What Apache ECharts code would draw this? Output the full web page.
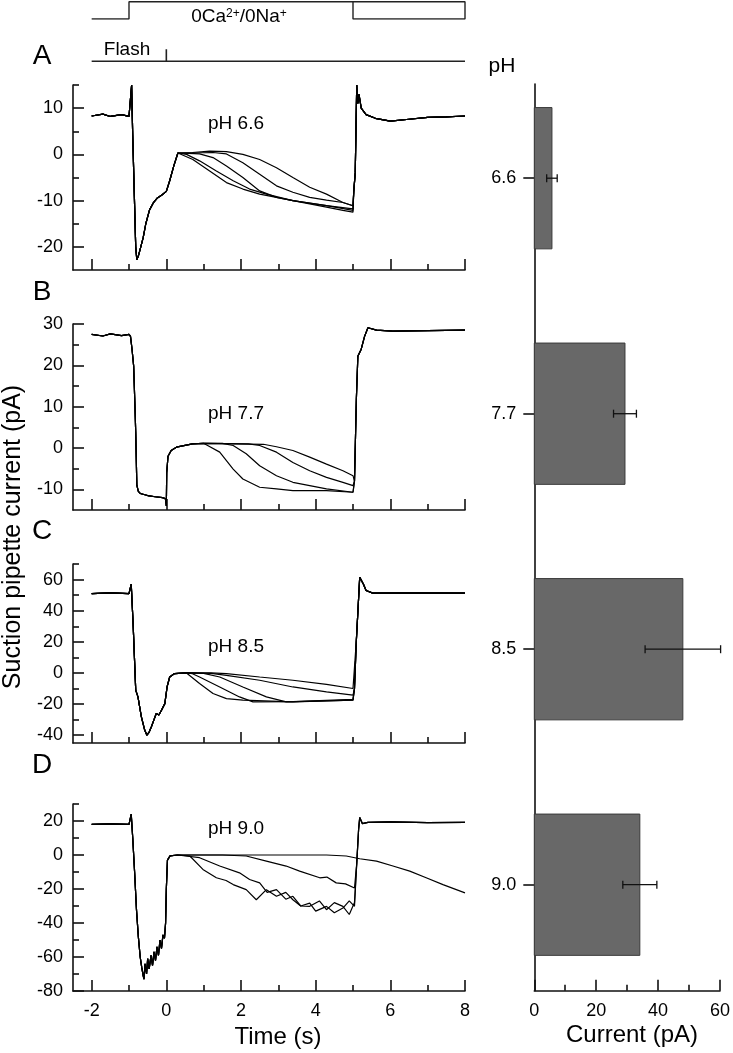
<!DOCTYPE html>
<html><head><meta charset="utf-8">
<script src="https://cdn.jsdelivr.net/npm/echarts@6/dist/echarts.min.js"></script>
<style>html,body{margin:0;padding:0;background:#fff}#c{width:733px;height:1053px}</style>
</head><body><div id="c"></div>
<script>
// ---------------- DATA ----------------
const timeMajor = [-2, 0, 2, 4, 6, 8];
const timeMinor = [-1, 1, 3, 5, 7];

// stimulus protocol (time s, level 0/1)
const solutionStep = [[-2,0],[-1,0],[-1,1],[8,1],[8,0],[5,0],[5,1]];
const flashBase = [[-2,0],[8,0]];
const flashMark = [[0,0],[0,1]];

// Panel A, pH 6.6
const aYMajor = [-20, -10, 0, 10], aYMinor = [-15, -5, 5, 15];
const aPre = [[-2,8.3],[-1.7,8.7],[-1.5,8.2],[-1.2,8.6],[-1.0,8.2],[-0.96,8.6],[-0.93,15],[-0.9,4],[-0.86,-8],[-0.82,-20],[-0.79,-22.8],[-0.75,-22],[-0.7,-20.5],[-0.62,-18],[-0.55,-15],[-0.45,-12],[-0.35,-10.5],[-0.25,-9.5],[-0.12,-8.8],[0,-8],[0.09,-5.7],[0.2,-2.5],[0.31,0.3]];
const aMid1 = [[0.36,0],[0.71,-1.1],[1.16,-3.6],[1.61,-6.1],[2.05,-7.5],[2.5,-8.6],[2.95,-9.3],[3.39,-10],[3.84,-10.7],[4.29,-11.4],[4.73,-12.1],[5.0,-12.5]];
const aMid2 = [[0.54,0],[0.89,-1.4],[1.34,-3.6],[1.79,-5.7],[2.23,-7.5],[2.68,-8.6],[3.39,-10],[4.29,-11.1],[5.0,-12.1]];
const aMid3 = [[0.6,0.2],[0.89,0.1],[1.25,-0.7],[1.61,-2.5],[2.05,-5],[2.5,-7.9],[2.95,-9.3],[3.39,-10],[4.29,-11.1],[5.0,-11.8]];
const aMid4 = [[0.7,0.3],[1.25,0.4],[1.61,0.1],[2.05,-1.8],[2.5,-4.3],[2.95,-6.8],[3.39,-8.2],[3.84,-9.3],[4.29,-9.9],[4.73,-10.4],[5.0,-11.1]];
const aMid5 = [[0.7,0.4],[1.16,0.7],[1.61,0.6],[2.05,0],[2.5,-1.1],[2.95,-2.9],[3.39,-5],[3.84,-7.1],[4.29,-8.6],[4.73,-10.4],[5.0,-11.1]];
const aPost = [[5.02,-8],[5.06,-4],[5.1,15],[5.13,11],[5.16,13],[5.22,10],[5.35,8.6],[5.6,7.8],[6.0,7.2],[6.5,7.6],[7.0,8.0],[7.5,8.1],[8.0,8.3]];

// Panel B, pH 7.7
const bYMajor = [-10, 0, 10, 20, 30], bYMinor = [-5, 5, 15, 25];
const bPre = [[-2,27.5],[-1.7,27.1],[-1.5,27.6],[-1.2,27.2],[-1.0,27.5],[-0.96,27],[-0.92,24],[-0.875,19.8],[-0.84,10],[-0.82,3.8],[-0.79,-9],[-0.75,-10.5],[-0.7,-11],[-0.5,-11.5],[-0.3,-11.8],[-0.1,-12],[-0.02,-12.3],[0,-14],[0.01,-6],[0.045,-2],[0.13,-0.6],[0.27,0.2],[0.7,1.0],[1.0,1.1]];
const bMid1 = [[1.07,0.8],[1.43,-1.0],[1.79,-5.1],[2.05,-7.5],[2.5,-9.5],[2.95,-9.9],[3.39,-10.3],[4.29,-10.3],[5.0,-10.7]];
const bMid2 = [[1.5,1.1],[1.79,0.6],[2.14,-1.4],[2.5,-4.3],[2.95,-6.7],[3.39,-8.3],[3.84,-9.1],[4.29,-9.9],[5.0,-10.7]];
const bMid3 = [[2.2,1.0],[2.5,0.6],[2.95,-1.0],[3.39,-3.5],[3.84,-5.5],[4.29,-7.1],[4.73,-8.3],[5.0,-9.1]];
const bMid4 = [[2.6,0.9],[2.95,0.3],[3.39,-0.6],[3.84,-2.2],[4.29,-3.9],[4.73,-5.5],[5.0,-6.7]];
const bPost = [[5.04,-8],[5.09,11.8],[5.13,22.2],[5.22,23.9],[5.31,27],[5.4,29.1],[5.63,28.5],[6.07,28.3],[7.0,28.4],[8.0,28.5]];

// Panel C, pH 8.5
const cYMajor = [-40, -20, 0, 20, 40, 60], cYMinor = [-30, -10, 10, 30, 50, 70];
const cPre = [[-2,51],[-1.5,51.5],[-1.0,51],[-0.96,52],[-0.94,57],[-0.89,31.6],[-0.82,-11],[-0.76,-15.4],[-0.67,-28],[-0.58,-36.7],[-0.52,-40],[-0.46,-38],[-0.4,-34.6],[-0.33,-30],[-0.27,-26],[-0.2,-27],[-0.13,-24],[-0.04,-19.7],[0.02,-9],[0.09,-2.6],[0.22,-0.4],[0.54,0]];
const cMid1 = [[0.89,-6.8],[1.25,-13.2],[1.61,-16.5],[2.05,-17.5],[3.39,-18.6],[5.0,-17.5]];
const cMid2 = [[0.7,-0.5],[0.89,-2.6],[1.43,-9],[1.96,-15.4],[2.32,-18.6],[3.39,-18.4],[5.0,-17.0]];
const cMid3 = [[1.0,-0.3],[1.43,-2.6],[2.05,-9],[2.68,-15.4],[3.21,-18.6],[5.0,-17.5]];
const cMid4 = [[1.2,-0.3],[1.61,-1.5],[2.5,-4.7],[3.39,-9],[4.29,-12.2],[5.0,-14.3]];
const cMid5 = [[1.2,0],[1.61,-0.4],[2.5,-2.6],[3.39,-4.7],[4.29,-7.3],[5.0,-10]];
const cPost = [[5.04,-10],[5.09,21],[5.18,61.5],[5.22,62.6],[5.28,57],[5.35,53],[5.53,51.3],[6.5,51.5],[8.0,51.3]];

// Panel D, pH 9.0
const dYMajor = [-80, -60, -40, -20, 0, 20], dYMinor = [-70, -50, -30, -10, 10, 30];
const dPre = [[-2,18],[-1.5,18.3],[-1,18],[-0.96,18.5],[-0.94,24],[-0.9,10],[-0.85,-10],[-0.8,-32],[-0.75,-48],[-0.7,-60],[-0.66,-66],[-0.62,-71],[-0.6,-73],[-0.57,-64],[-0.53,-70],[-0.5,-61],[-0.46,-67],[-0.41,-59],[-0.37,-65],[-0.33,-57],[-0.29,-62],[-0.25,-54],[-0.21,-59],[-0.17,-50],[-0.13,-55],[-0.09,-47],[-0.05,-49],[-0.02,-40],[0,-20],[0.03,-3],[0.1,-0.5],[0.3,0]];
const dMid1 = [[0.63,-0.6],[0.98,-8.5],[1.34,-13.4],[1.6,-15],[1.79,-17.4],[2.14,-20.4],[2.41,-26.3],[2.68,-20.4],[2.95,-24.3],[3.2,-22],[3.39,-26.3],[3.6,-30],[3.84,-30.2],[4.1,-27],[4.29,-32.2],[4.5,-28],[4.73,-30.2],[4.9,-35],[5.04,-28]];
const dMid2 = [[0.89,-1.6],[1.43,-6.5],[1.96,-10.5],[2.23,-14.4],[2.5,-16.4],[2.7,-22],[2.95,-20.4],[3.2,-26],[3.39,-24.3],[3.6,-30],[3.84,-28.3],[4.0,-33],[4.29,-30.2],[4.5,-34],[4.73,-31.2],[4.9,-27],[5.04,-30.2]];
const dMid3 = [[1.5,0],[2.14,-0.6],[2.68,-3.6],[3.21,-6.5],[3.57,-9.5],[4.11,-13.4],[4.3,-13],[4.55,-16.4],[4.8,-17],[5.04,-19.4]];
const dSlow = [[0.5,0],[3.39,0],[4.29,0],[4.82,-0.6],[5.18,-2.2],[5.63,-3.6],[6.07,-6.5],[6.52,-9.5],[6.96,-13.4],[7.41,-17.4],[8.0,-22.3]];
const dPost = [[5.1,-5],[5.15,15],[5.18,22],[5.25,18.5],[5.4,19.2],[6.0,19.5],[7.0,19],[8.0,19.2]];

// Bar chart
const phLabels = ['6.6', '7.7', '8.5', '9.0'];
const meanCurrent = [5.7, 29.3, 48.0, 34.1];
const semCurrent = [1.7, 3.7, 12.2, 5.5];
const currentMajor = [0, 20, 40, 60], currentMinor = [10, 30, 50];

// ---------------- BUILD ----------------
const FONT = '"Liberation Sans", Arial, sans-serif';
const AX = '#111';
const panelTraces = [
  [aMid1, aMid2, aMid3, aMid4, aMid5].map(m => aPre.concat(m, aPost)),
  [bMid1, bMid2, bMid3, bMid4].map(m => bPre.concat(m, bPost)),
  [cMid1, cMid2, cMid3, cMid4, cMid5].map(m => cPre.concat(m, cPost)),
  [dMid1, dMid2, dMid3].map(m => dPre.concat(m, dPost)).concat([dPre.concat(dSlow)])
];
const panelY = [
  {min: -25, max: 15, major: aYMajor, minor: aYMinor},
  {min: -15, max: 30, major: bYMajor, minor: bYMinor},
  {min: -45, max: 70, major: cYMajor, minor: cYMinor},
  {min: -80, max: 30, major: dYMajor, minor: dYMinor}
];
const panelBox = [
  {top: 85, height: 185}, {top: 324, height: 186}, {top: 564, height: 179}, {top: 804, height: 187}
];

const grids = [
  {left: 73, width: 392, top: 1.7, height: 17.3},
  {left: 73, width: 392, top: 49.3, height: 12}
];
panelBox.forEach(b => grids.push({left: 73, width: 392, top: b.top, height: b.height}));
grids.push({left: 534.3, width: 187.4, top: 84, height: 906.7});

const lineSt = {color: AX, width: 1.6};
const labelSt = {color: '#000', fontSize: 18, fontFamily: FONT};

const xAxes = [
  {type: 'value', gridIndex: 0, min: -2.5, max: 8, show: false},
  {type: 'value', gridIndex: 1, min: -2.5, max: 8, show: false}
];
const yAxes = [
  {type: 'value', gridIndex: 0, min: 0, max: 1, show: false},
  {type: 'value', gridIndex: 1, min: 0, max: 1, show: false}
];

function axisPair(list, gridIndex, pos, min, max, major, minor, showLabels, labelMargin) {
  list.push({
    type: 'value', gridIndex, position: pos, min, max,
    axisLine: {show: true, onZero: false, lineStyle: lineSt},
    axisTick: {show: true, inside: true, length: 11, customValues: major, lineStyle: lineSt},
    axisLabel: {show: showLabels, customValues: major, margin: labelMargin, ...labelSt},
    splitLine: {show: false}
  });
  list.push({
    type: 'value', gridIndex, position: pos, min, max,
    axisLine: {show: false, onZero: false},
    axisTick: {show: true, inside: true, length: 6, customValues: minor, lineStyle: lineSt},
    axisLabel: {show: false},
    splitLine: {show: false}
  });
}

panelY.forEach((p, i) => {
  const g = 2 + i;
  axisPair(xAxes, g, 'bottom', -2.5, 8, timeMajor, timeMinor, i === 3, 11);
  axisPair(yAxes, g, 'left', p.min, p.max, p.major, p.minor, true, 10);
});
// bars
axisPair(xAxes, 6, 'bottom', 0, 60, currentMajor, currentMinor, true, 11);
yAxes.push({
  type: 'value', gridIndex: 6, position: 'left', min: -0.4, max: 3.45, inverse: true,
  axisLine: {show: true, onZero: false, lineStyle: lineSt},
  axisTick: {show: true, inside: false, length: 11, customValues: [0, 1, 2, 3], lineStyle: lineSt},
  axisLabel: {show: true, customValues: [0, 1, 2, 3], margin: 18, formatter: v => phLabels[Math.round(v)], ...labelSt},
  splitLine: {show: false}
});
const barY = yAxes.length - 1;
const barX = 10;

const series = [
  {type: 'line', xAxisIndex: 0, yAxisIndex: 0, data: solutionStep, symbol: 'none', lineStyle: {color: '#222', width: 1.4}, silent: true},
  {type: 'line', xAxisIndex: 1, yAxisIndex: 1, data: flashBase, symbol: 'none', lineStyle: {color: '#222', width: 1.4}, silent: true},
  {type: 'line', xAxisIndex: 1, yAxisIndex: 1, data: flashMark, symbol: 'none', lineStyle: {color: '#222', width: 1.6}, silent: true}
];
panelTraces.forEach((traces, i) => {
  traces.forEach(tr => series.push({
    type: 'line', xAxisIndex: 2 + 2 * i, yAxisIndex: 2 + 2 * i, data: tr,
    symbol: 'none', lineStyle: {color: '#000', width: 1.2}, silent: true
  }));
});
series.push({
  type: 'custom', xAxisIndex: barX, yAxisIndex: barY,
  data: meanCurrent.map((m, i) => [m, i]),
  renderItem(params, api) {
    const v = api.value(0), i = api.value(1);
    const p0 = api.coord([0, i]), p1 = api.coord([v, i]);
    const h = api.size([0, 0.6])[1];
    return {type: 'rect', shape: {x: p0[0], y: p0[1] - h / 2, width: p1[0] - p0[0], height: h},
      style: {fill: '#686868', stroke: '#3a3a3a', lineWidth: 1}};
  }
});
series.push({
  type: 'custom', xAxisIndex: barX, yAxisIndex: barY,
  data: meanCurrent.map((m, i) => [m - semCurrent[i], m + semCurrent[i], i]),
  renderItem(params, api) {
    const lo = api.coord([api.value(0), api.value(2)]);
    const hi = api.coord([api.value(1), api.value(2)]);
    const c = 4;
    const st = {stroke: '#111', lineWidth: 1.3};
    return {type: 'group', children: [
      {type: 'line', shape: {x1: lo[0], y1: lo[1], x2: hi[0], y2: hi[1]}, style: st},
      {type: 'line', shape: {x1: lo[0], y1: lo[1] - c, x2: lo[0], y2: lo[1] + c}, style: st},
      {type: 'line', shape: {x1: hi[0], y1: hi[1] - c, x2: hi[0], y2: hi[1] + c}, style: st}
    ]};
  }
});

function txt(text, x, y, size, rotation) {
  const el = {type: 'text', x, y, silent: true,
    style: {text, fill: '#000', font: size + 'px ' + FONT,
      align: 'center', verticalAlign: 'middle', textAlign: 'center', textVerticalAlign: 'middle'}};
  if (rotation !== undefined) el.rotation = rotation;
  return el;
}

const graphic = [
  {type: 'text', x: 239, y: 17, silent: true, style: {
    text: '0Ca{s|2+}/0Na{s|+}', fill: '#000', font: '19px ' + FONT,
    align: 'center', verticalAlign: 'middle', textAlign: 'center', textVerticalAlign: 'middle',
    rich: {s: {fontSize: 12, fontFamily: FONT, verticalAlign: 'top', fill: '#000'}}}},
  txt('Flash', 127, 50, 19),
  txt('A', 42, 56, 28), txt('B', 42, 292, 28), txt('C', 42, 531, 28), txt('D', 42, 765, 28),
  txt('pH 6.6', 236, 124, 19), txt('pH 7.7', 236, 414, 19), txt('pH 8.5', 236, 647, 19), txt('pH 9.0', 236, 829, 19),
  txt('pH', 502, 66, 21),
  txt('Time (s)', 278, 1037, 24),
  txt('Current (pA)', 632, 1035, 24),
  txt('Suction pipette current (pA)', 13, 537, 25, Math.PI / 2)
];

const chart = echarts.init(document.getElementById('c'), null, {renderer: 'canvas'});
chart.setOption({
  animation: false,
  backgroundColor: '#fff',
  grid: grids,
  xAxis: xAxes,
  yAxis: yAxes,
  series,
  graphic
});
</script></body></html>
